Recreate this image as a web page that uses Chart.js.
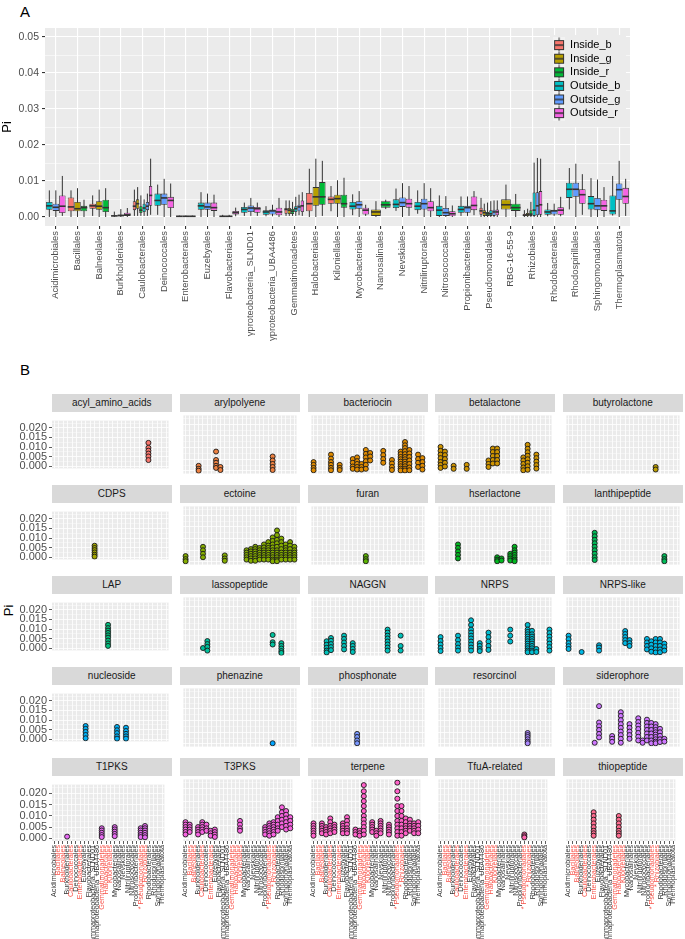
<!DOCTYPE html>
<html><head><meta charset="utf-8">
<script src="https://cdn.jsdelivr.net/npm/chart.js@4.4.1/dist/chart.umd.min.js"></script>
<style>
body{margin:0;background:#fff;width:685px;height:939px;position:relative;overflow:hidden;font-family:"Liberation Sans",Arial,sans-serif;}
.plabel{position:absolute;font-size:15px;color:#000;}
.strip{position:absolute;background:#D9D9D9;color:#1A1A1A;font-size:10px;text-align:center;line-height:18px;height:18px;}
.ytitle{position:absolute;font-size:13px;color:#000;transform:rotate(-90deg);transform-origin:center;}
canvas{position:absolute;}
</style></head>
<body>
<div class="plabel" style="left:20px;top:3px;">A</div>
<div class="plabel" style="left:20px;top:361px;">B</div>
<div class="ytitle" style="left:3px;top:603px;">Pi</div>
<canvas id="cA" width="640" height="358" style="left:0;top:0;width:640px;height:358px;"></canvas>
<script>
// ---------------- DATA : panel A ----------------
const categoriesA = ["Acidimicrobiales","Bacillales","Balneolales","Burkholderiales","Caulobacterales","Deinococcales","Enterobacterales","Euzebyales","Flavobacteriales","γproteobacteria_SLND01","γproteobacteria_UBA4486","Gemmatimonadetes","Halobacteriales","Kiloniellales","Mycobacteriales","Nanosalinales","Nevskiales","Nitriliruptorales","Nitrosococcales","Propionibacteriales","Pseudomonadales","RBG-16-55-9","Rhizobiales","Rhodobacterales","Rhodospirillales","Sphingomonadales","Thermoplasmatota"];
const groupNames = ["Inside_b","Inside_g","Inside_r","Outside_b","Outside_g","Outside_r"];
const yTicksA = [0, 0.01, 0.02, 0.03, 0.04, 0.05];
const yMinorA = [0.005, 0.015, 0.025, 0.035, 0.045];
// box statistics per category: [min, q1, median, q3, max]; null = group absent
const insideB = [null,[0,0.0016,0.0028,0.0054,0.0074],[0.0003,0.0023,0.0031,0.0037,0.006],null,[0.0003,0.0019,0.003,0.0044,0.0076],null,null,null,null,null,null,[0.0003,0.0009,0.0021,0.0025,0.0046],[0,0.0016,0.0037,0.0067,0.0134],[0.0016,0.0037,0.0049,0.0057,0.0086],null,null,null,null,null,null,[0,0.0006,0.0017,0.0026,0.0053],null,[0,0.0002,0.0005,0.0009,0.0019],null,null,null,null];
const insideG = [null,[0,0.0016,0.0023,0.0042,0.008],[0,0.002,0.003,0.0044,0.0076],null,[0.0003,0.0023,0.0037,0.0049,0.0083],null,null,null,null,null,null,[0.0003,0.0008,0.0019,0.0025,0.0046],[0,0.0031,0.0056,0.0083,0.0162],[0,0.0037,0.0051,0.0062,0.0102],null,[0,0.0003,0.0014,0.0021,0.0044],null,null,null,null,[0,0.0003,0.0012,0.0019,0.0037],[0,0.0021,0.0034,0.0049,0.009],[0,0.0002,0.0006,0.0011,0.0023],null,null,null,null];
const insideR = [null,[0,0.0016,0.0026,0.0031,0.0048],[0,0.0014,0.0026,0.0048,0.008],null,[0.0003,0.0011,0.0019,0.003,0.006],null,null,null,null,null,null,[0.0003,0.0008,0.0016,0.0023,0.0042],[0.0003,0.0034,0.0056,0.0097,0.0156],[0,0.0026,0.0037,0.0062,0.0109],null,[0.0022,0.0026,0.0034,0.0044,0.0048],null,null,null,null,[0,0.0003,0.0009,0.0014,0.004],[0,0.0017,0.0026,0.0037,0.0064],[0,0.0003,0.0008,0.0019,0.0042],null,null,null,null];
const outsideB = [[0,0.002,0.0031,0.0042,0.0074],null,null,[0,0.0002,0.0003,0.0005,0.0015],[0.0003,0.0014,0.0025,0.0037,0.0049],[0.0006,0.0031,0.0046,0.0065,0.009],[0,0.0001,0.0002,0.0003,0.0004],[0,0.002,0.0031,0.004,0.0069],[0,0.0001,0.0002,0.0003,0.0006],[0.0003,0.0012,0.0021,0.0028,0.004],[0.0002,0.0006,0.0014,0.0019,0.003],[0.0003,0.0014,0.0023,0.003,0.0056],null,null,[0.0005,0.0021,0.003,0.0042,0.0063],null,[0.0017,0.0025,0.0035,0.0049,0.0079],[0.0009,0.0019,0.003,0.0042,0.0074],[0,0.0003,0.0019,0.0031,0.006],[0.0003,0.0012,0.0021,0.0031,0.0057],[0,0.0003,0.0009,0.0019,0.0044],null,[0,0.0003,0.0019,0.0068,0.0151],[0.0002,0.0006,0.0014,0.0021,0.0039],[0.0021,0.0053,0.0077,0.0095,0.0136],[0,0.0021,0.0037,0.0058,0.0108],[0.0004,0.0007,0.0017,0.006,0.0114]];
const outsideG = [[0,0.0017,0.0027,0.0037,0.0074],null,null,[0,0.0002,0.0004,0.0007,0.0022],[0.0003,0.0019,0.003,0.0042,0.0065],[0,0.0034,0.0053,0.0065,0.0106],[0,0.0001,0.0002,0.0003,0.0004],[0,0.002,0.0028,0.004,0.0065],[0,0.0001,0.0002,0.0003,0.0006],[0.0003,0.0014,0.0025,0.0032,0.0053],[0.0002,0.0007,0.0017,0.0021,0.0034],[0.0005,0.0016,0.0028,0.0034,0.0062],null,null,[0,0.0023,0.0034,0.0044,0.0072],null,[0,0.0028,0.004,0.0054,0.0094],[0,0.0021,0.0037,0.0051,0.0094],[0,0.0003,0.0012,0.0025,0.0058],[0.0003,0.0012,0.0026,0.0031,0.0057],[0,0.0003,0.0014,0.002,0.0046],null,[0,0.0005,0.0031,0.0069,0.0164],[0.0003,0.0007,0.0017,0.002,0.0037],[0,0.0056,0.0077,0.0095,0.0148],[0,0.0019,0.0031,0.0053,0.0104],[0,0.0048,0.0076,0.0093,0.0156]];
const outsideR = [[0.0003,0.0011,0.003,0.006,0.0114],null,null,[0,0.0003,0.0006,0.0012,0.0025],[0.0006,0.0031,0.006,0.0086,0.0162],[0,0.0025,0.0046,0.0056,0.0093],[0,0.0001,0.0002,0.0003,0.0004],[0,0.0017,0.0026,0.004,0.0062],[0.0002,0.0007,0.0012,0.0017,0.0026],[0.0003,0.0012,0.0023,0.0028,0.004],[0,0.0005,0.0014,0.0026,0.0053],[0.0003,0.0014,0.0031,0.0046,0.0069],null,null,[0.0003,0.0007,0.0019,0.0026,0.0034],null,[0.0003,0.0026,0.0037,0.0051,0.0086],[0,0.0016,0.0026,0.0044,0.008],[0,0.0002,0.0009,0.0016,0.0032],[0.0005,0.0019,0.0032,0.0057,0.0072],[0,0.0005,0.0014,0.0021,0.0046],null,[0,0.0006,0.0034,0.0072,0.0162],[0.0002,0.0006,0.0019,0.0027,0.0056],[0.0006,0.0037,0.0062,0.0077,0.0119],[0,0.0017,0.0031,0.0048,0.0083],[0.0003,0.0037,0.0057,0.0081,0.0106]];

// ---------------- DATA : panel B ----------------
const categoriesB = ["Acidimicrobiales","Bacillales","Balneolales","Burkholderiales","Caulobacterales","Deinococcales","Enterobacterales","Euzebyales","Flavobacteriales","Gammaproteobacteria_SLND01","Gammaproteobacteria_UBA4486","Gemmatimonadetes","Halobacteriales","Kiloniellales","Mycobacteriales","Nanosalinales","Nevskiales","Nitriliruptorales","Nitrosococcales","Propionibacteriales","* Pseudomonadales","* Rhizobiales","Rhodobacterales","Rhodospirillales","Sphingomonadales","Thermoplasmatota"];
const redCategoriesB = ["Bacillales","Balneolales","Caulobacterales","Enterobacterales","Gemmatimonadetes","Halobacteriales","Kiloniellales","* Pseudomonadales","* Rhizobiales"];
const yTicksB = [0, 0.005, 0.01, 0.015, 0.02];
const yMinorB = [0.0025, 0.0075, 0.0125, 0.0175, 0.0225];
const facetNames = ["acyl_amino_acids","arylpolyene","bacteriocin","betalactone","butyrolactone","CDPS","ectoine","furan","hserlactone","lanthipeptide","LAP","lassopeptide","NAGGN","NRPS","NRPS-like","nucleoside","phenazine","phosphonate","resorcinol","siderophore","T1PKS","T3PKS","terpene","TfuA-related","thiopeptide"];
// each facet: [category, [Pi values]]
const acyl_amino_acids = [["* Rhizobiales",[0.0122,0.0096,0.0081,0.0066,0.0051,0.0032]]];
const arylpolyene = [["Burkholderiales",[0.0022,0.0009,0.0001]],["Euzebyales",[0.0083,0.0047,0.0035,0.0022,0.0013]],["Flavobacteriales",[0.0017,0.0004]],["* Pseudomonadales",[0.0062,0.0045,0.003,0.0017,0.0004]]];
const bacteriocin = [["Acidimicrobiales",[0.0038,0.0026,0.0013,0.0003]],["Caulobacterales",[0.007,0.0053,0.0038,0.0026,0.0013,0.0003]],["Enterobacterales",[0.0026,0.0013,0.0004]],["Gammaproteobacteria_SLND01",[0.0051,0.0035,0.0019,0.0009]],["Gammaproteobacteria_UBA4486",[0.0058,0.0042,0.003,0.0017,0.0006]],["Gemmatimonadetes",[0.003,0.0017,0.0006]],["Halobacteriales",[0.009,0.0073,0.0058,0.0042,0.0026,0.0009]],["Kiloniellales",[0.0077,0.0062,0.0045]],["Nevskiales",[0.0086,0.0068,0.0051,0.0035]],["Nitrosococcales",[0.0047,0.0032,0.0017,0.0004]],["* Pseudomonadales",[0.0083,0.0072,0.006,0.005,0.004,0.003,0.002,0.001,0.0002]],["* Rhizobiales",[0.0124,0.011,0.0098,0.0085,0.0072,0.006,0.005,0.004,0.003,0.002,0.001,0.0002]],["Rhodobacterales",[0.009,0.0075,0.006,0.0045,0.003,0.0015,0.0003]],["Sphingomonadales",[0.007,0.0051,0.0035,0.0017]],["Thermoplasmatota",[0.0055,0.0038,0.0022,0.0006]]];
const betalactone = [["Acidimicrobiales",[0.0103,0.0086,0.007,0.0055,0.0038,0.0026,0.0013]],["Bacillales",[0.0083,0.0068,0.0051,0.0035,0.0019]],["Burkholderiales",[0.0022,0.0009]],["Enterobacterales",[0.0026,0.0009]],["Gemmatimonadetes",[0.0045,0.003,0.0017]],["Halobacteriales",[0.0096,0.0081,0.0064,0.0047,0.0032]],["Kiloniellales",[0.0096,0.0081,0.0064,0.0047,0.0032]],["Propionibacteriales",[0.0058,0.0045,0.003,0.0015,0.0003]],["* Pseudomonadales",[0.0112,0.0095,0.008,0.0065,0.005,0.0035,0.002,0.0005]],["Rhodobacterales",[0.007,0.0055,0.004,0.0025,0.001]]];
const butyrolactone = [["* Pseudomonadales",[0.0017,0.0006]]];
const CDPS = [["Gammaproteobacteria_SLND01",[0.006,0.0048,0.0037,0.0025,0.0013,0.0003]]];
const ectoine = [["Acidimicrobiales",[0.0025,0.0012,0.0003]],["Caulobacterales",[0.0065,0.005,0.0035,0.002]],["Gammaproteobacteria_SLND01",[0.0028,0.0015,0.0005]],["Mycobacteriales",[0.005,0.004,0.003,0.002,0.001]],["Nanosalinales",[0.0055,0.0045,0.0035,0.0025,0.0015,0.0005]],["Nevskiales",[0.0065,0.0055,0.0045,0.0035,0.0025,0.0015,0.0005]],["Nitriliruptorales",[0.006,0.005,0.004,0.003,0.002,0.001]],["Nitrosococcales",[0.0075,0.0062,0.005,0.004,0.003,0.002,0.001]],["Propionibacteriales",[0.0085,0.007,0.006,0.005,0.004,0.003,0.002,0.001]],["* Pseudomonadales",[0.0105,0.009,0.0075,0.0062,0.005,0.004,0.003,0.002,0.001,0.0003]],["* Rhizobiales",[0.0135,0.0115,0.0095,0.008,0.0065,0.005,0.004,0.003,0.002,0.001,0.0003]],["Rhodobacterales",[0.01,0.0085,0.007,0.0055,0.004,0.003,0.002,0.001]],["Rhodospirillales",[0.0075,0.006,0.005,0.004,0.003,0.002,0.001]],["Sphingomonadales",[0.0085,0.007,0.0055,0.004,0.003,0.002,0.001]],["Thermoplasmatota",[0.0065,0.005,0.004,0.003,0.002,0.001]]];
const furan = [["Halobacteriales",[0.0025,0.0012,0.0003]]];
const hserlactone = [["Caulobacterales",[0.0075,0.006,0.0045,0.003,0.0015]],["Kiloniellales",[0.002,0.001,0.0003]],["Mycobacteriales",[0.0015,0.0006]],["Nevskiales",[0.0035,0.0025,0.0015,0.0006]],["Nitriliruptorales",[0.0065,0.005,0.004,0.003,0.002,0.001,0.0003]]];
const lanthipeptide = [["Enterobacterales",[0.0125,0.011,0.0095,0.008,0.0065,0.005,0.0035,0.002,0.0008]],["Rhodobacterales",[0.0025,0.0012,0.0003]]];
const LAP = [["Halobacteriales",[0.0122,0.0105,0.0092,0.008,0.0067,0.0055,0.004,0.0025,0.0012]]];
const lassopeptide = [["Caulobacterales",[0.0021]],["Deinococcales",[0.0051,0.0038,0.0026,0.001]],["* Pseudomonadales",[0.0077,0.0046,0.0036]],["Rhodobacterales",[0.0042,0.003,0.0019,0.0008,0]]];
const NAGGN = [["Burkholderiales",[0.005,0.0035,0.0022,0.001,0.0002]],["Caulobacterales",[0.0064,0.0052,0.0038,0.0025,0.0012]],["Euzebyales",[0.0074,0.006,0.0045,0.003,0.0015]],["Gammaproteobacteria_SLND01",[0.0042,0.003,0.0017,0.0004]],["Nitriliruptorales",[0.01,0.0087,0.0074,0.0062,0.0049,0.0036,0.0023,0.001]],["* Pseudomonadales",[0.0074,0.003,0.001]]];
const NRPS = [["Acidimicrobiales",[0.0068,0.0051,0.0036,0.0021,0.0008]],["Caulobacterales",[0.0074,0.0055,0.0038,0.0023,0.001]],["Euzebyales",[0.014,0.012,0.01,0.0087,0.0074,0.0062,0.0049,0.0036,0.0023,0.001]],["Gammaproteobacteria_SLND01",[0.0042,0.003,0.0017,0.0008]],["Gemmatimonadetes",[0.0087,0.0068,0.0049,0.003,0.0013]],["Nevskiales",[0.01,0.0074,0.0049]],["* Pseudomonadales",[0.012,0.01,0.009,0.008,0.007,0.006,0.005,0.004,0.003,0.002,0.001,0.0003]],["* Rhizobiales",[0.0095,0.008,0.007,0.006,0.005,0.004,0.003,0.002,0.001,0.0003]],["Rhodobacterales",[0.0017,0.0004]],["Thermoplasmatota",[0.01,0.0085,0.007,0.0055,0.004,0.0025,0.001]]];
const NRPS_like = [["Acidimicrobiales",[0.0074,0.0059,0.0042,0.0029,0.0017]],["Burkholderiales",[0.0004]],["Euzebyales",[0.0033,0.0023,0.001]],["Kiloniellales",[0.0094,0.0081,0.0068,0.0055,0.0042]],["Mycobacteriales",[0.0055,0.0042,0.003]],["Nitrosococcales",[0.006,0.0045,0.003,0.0015]],["Propionibacteriales",[0.005,0.0035,0.002,0.0005]],["* Pseudomonadales",[0.006,0.0045,0.003,0.0015,0.0002]],["* Rhizobiales",[0.006,0.0045,0.003,0.0015,0.0003]],["Rhodobacterales",[0.004,0.0025,0.001]]];
const nucleoside = [["Euzebyales",[0.0069,0.0054,0.0038,0.0022,0.0005]],["Mycobacteriales",[0.0064,0.0047,0.0032,0.0015,0.0003]],["Nevskiales",[0.006,0.0043,0.0028,0.0015,0.0003]]];
const phenazine = [["* Pseudomonadales",[0.0003]]];
const phosphonate = [["Gammaproteobacteria_UBA4486",[0.0043,0.003,0.0015,0.0003]]];
const resorcinol = [["* Pseudomonadales",[0.0047,0.0038,0.003,0.002,0.001,0.0003]]];
const siderophore = [["Enterobacterales",[0.0005]],["Euzebyales",[0.0162,0.0092,0.0076,0.006,0.0043,0.0028]],["Gammaproteobacteria_UBA4486",[0.0034,0.0022,0.0009]],["Halobacteriales",[0.0136,0.012,0.0102,0.0085,0.0069,0.0053,0.0038,0.0022,0.0005]],["Mycobacteriales",[0.0085,0.0069,0.0053,0.0038,0.0022]],["Nevskiales",[0.011,0.0094,0.0079,0.0064,0.0047,0.0031,0.0015]],["Nitriliruptorales",[0.0015,0.0005]],["Nitrosococcales",[0.0104,0.009,0.0075,0.006,0.0045,0.003,0.0015]],["Propionibacteriales",[0.009,0.0075,0.006,0.0045,0.003,0.0015,0.0003]],["* Pseudomonadales",[0.0085,0.0072,0.006,0.005,0.004,0.003,0.002,0.001,0.0003]],["* Rhizobiales",[0.0065,0.005,0.0035,0.002,0.0008]],["Rhodobacterales",[0.0022,0.001]]];
const T1PKS = [["Burkholderiales",[0.0008]],["Gemmatimonadetes",[0.0045,0.0035,0.0025,0.0015,0.0006]],["Mycobacteriales",[0.005,0.004,0.003,0.002,0.001]],["* Pseudomonadales",[0.0045,0.0035,0.0025,0.0015,0.0006]],["* Rhizobiales",[0.0055,0.0045,0.0035,0.0025,0.0015,0.0005]]];
const T3PKS = [["Acidimicrobiales",[0.0065,0.0055,0.0045,0.0035,0.0025,0.0015]],["Bacillales",[0.0055,0.0045,0.0035,0.0025]],["Burkholderiales",[0.0045,0.0035,0.0025,0.0015]],["Caulobacterales",[0.0065,0.0055,0.0045,0.0035,0.0025]],["Deinococcales",[0.0055,0.004,0.003]],["Enterobacterales",[0.003,0.002,0.001]],["Euzebyales",[0.0035,0.0025,0.0015,0.0005]],["Kiloniellales",[0.007,0.0055,0.004,0.003]],["Propionibacteriales",[0.0045,0.0035,0.0025,0.0015]],["* Pseudomonadales",[0.006,0.005,0.004,0.003,0.002,0.001]],["* Rhizobiales",[0.0065,0.0055,0.0045,0.0035,0.0025,0.0015]],["Rhodobacterales",[0.0085,0.007,0.0055,0.004,0.003]],["Rhodospirillales",[0.0125,0.0105,0.009,0.0075,0.006,0.0045]],["Sphingomonadales",[0.011,0.0095,0.008,0.0065,0.005,0.0035]],["Thermoplasmatota",[0.0085,0.007,0.0055,0.004]]];
const terpene = [["Acidimicrobiales",[0.006,0.005,0.004,0.003,0.002,0.001]],["Balneolales",[0.006,0.005,0.004,0.003,0.002]],["Burkholderiales",[0.0045,0.0035,0.0025,0.0015]],["Caulobacterales",[0.008,0.0065,0.005,0.004,0.003,0.002]],["Deinococcales",[0.0055,0.0045,0.0035,0.0025]],["Euzebyales",[0.006,0.005,0.004,0.003,0.002]],["Flavobacteriales",[0.0085,0.007,0.0055,0.004,0.003,0.002]],["Gammaproteobacteria_UBA4486",[0.0035,0.0025,0.0015]],["Gemmatimonadetes",[0.003,0.002,0.001]],["Halobacteriales",[0.0215,0.019,0.017,0.015,0.013,0.011,0.009,0.0075,0.006,0.0045,0.003,0.0015]],["Mycobacteriales",[0.0065,0.0055,0.0045,0.0035,0.0025]],["Nanosalinales",[0.003,0.002,0.001]],["Nevskiales",[0.007,0.006,0.005,0.004,0.003,0.002]],["Nitrosococcales",[0.0055,0.0045,0.0035,0.0025,0.0015]],["* Pseudomonadales",[0.0225,0.019,0.016,0.013,0.011,0.009,0.007,0.0055,0.004,0.0025,0.001]],["* Rhizobiales",[0.013,0.011,0.009,0.007,0.0055,0.004,0.0025,0.001]],["Rhodobacterales",[0.008,0.0065,0.005,0.004,0.003,0.002]],["Rhodospirillales",[0.0075,0.006,0.005,0.004,0.003]],["Sphingomonadales",[0.006,0.005,0.004,0.003,0.002]],["Thermoplasmatota",[0.0065,0.005,0.0035,0.002]]];
const TfuA_related = [["* Pseudomonadales",[0.0015,0.0008,0.0003]]];
const thiopeptide = [["Enterobacterales",[0.0105,0.009,0.0075,0.006,0.0045,0.003,0.002,0.001]],["Halobacteriales",[0.009,0.0075,0.006,0.0045,0.003,0.002,0.001]]];
const facetData = [acyl_amino_acids,arylpolyene,bacteriocin,betalactone,butyrolactone,CDPS,ectoine,furan,hserlactone,lanthipeptide,LAP,lassopeptide,NAGGN,NRPS,NRPS_like,nucleoside,phenazine,phosphonate,resorcinol,siderophore,T1PKS,T3PKS,terpene,TfuA_related,thiopeptide];

// ---------------- helpers ----------------
Chart.defaults.font.family = '"Liberation Sans", Arial, sans-serif';
Chart.defaults.animation = false;
Chart.defaults.responsive = false;
Chart.defaults.devicePixelRatio = 1;

function hcl(h, c, l) {
  const hr = h * Math.PI / 180;
  const U = c * Math.cos(hr), V = c * Math.sin(hr);
  const un = 0.1978398, vn = 0.4683363;
  const Y = Math.pow((l + 16) / 116, 3);
  const u = U / (13 * l) + un, v = V / (13 * l) + vn;
  const X = Y * 9 * u / (4 * v), Z = Y * (12 - 3 * u - 20 * v) / (4 * v);
  const lin = [3.240479*X - 1.537150*Y - 0.498535*Z, -0.969256*X + 1.875992*Y + 0.041556*Z, 0.055648*X - 0.204043*Y + 1.057311*Z];
  const g = lin.map(t => { t = t <= 0.0031308 ? 12.92 * t : 1.055 * Math.pow(t, 1/2.4) - 0.055; return Math.round(Math.max(0, Math.min(1, t)) * 255); });
  return 'rgb(' + g.join(',') + ')';
}
function huePal(n) { const out = []; for (let i = 0; i < n; i++) out.push(hcl((15 + 360 * i / n) % 360, 100, 65)); return out; }
const near = (arr, v) => arr.some(t => Math.abs(t - v) < 1e-9);

const PANEL_BG = '#EBEBEB';
const panelBg = { id: 'panelBg', beforeDraw(chart) { const a = chart.chartArea; const ctx = chart.ctx; ctx.save(); ctx.fillStyle = PANEL_BG; ctx.fillRect(a.left, a.top, a.right - a.left, a.bottom - a.top); ctx.restore(); } };

// ---------------- Panel A ----------------
const colorsA = ['#F8766D', '#B79F00', '#00BA38', '#00BFC4', '#619CFF', '#F564E3'];
const statsA = [insideB, insideG, insideR, outsideB, outsideG, outsideR];

function keyGlyph(color) {
  const c = document.createElement('canvas'); c.width = 12; c.height = 16;
  const x = c.getContext('2d');
  x.fillStyle = '#F2F2F2'; x.fillRect(0, 0, 12, 16);
  x.strokeStyle = '#333'; x.lineWidth = 1;
  x.beginPath(); x.moveTo(6, 0.5); x.lineTo(6, 15.5); x.stroke();
  x.fillStyle = color; x.fillRect(1.5, 3.5, 9, 9); x.strokeRect(1.5, 3.5, 9, 9);
  x.lineWidth = 1.5; x.beginPath(); x.moveTo(1.5, 8); x.lineTo(10.5, 8); x.stroke();
  return c;
}

const boxWhisker = {
  id: 'boxWhisker',
  beforeDatasetsDraw(chart) {
    const ctx = chart.ctx, ys = chart.scales.y;
    chart.data.datasets.forEach((ds, di) => {
      const meta = chart.getDatasetMeta(di);
      meta.data.forEach((el, i) => {
        const s = ds.stats[i]; if (!s) return;
        ctx.save(); ctx.strokeStyle = '#333'; ctx.lineWidth = 1;
        ctx.beginPath(); ctx.moveTo(el.x, ys.getPixelForValue(s[0])); ctx.lineTo(el.x, ys.getPixelForValue(s[4])); ctx.stroke();
        ctx.restore();
      });
    });
  },
  afterDatasetsDraw(chart) {
    const ctx = chart.ctx, ys = chart.scales.y;
    chart.data.datasets.forEach((ds, di) => {
      const meta = chart.getDatasetMeta(di);
      meta.data.forEach((el, i) => {
        const s = ds.stats[i]; if (!s) return;
        const y = ys.getPixelForValue(s[2]);
        ctx.save(); ctx.strokeStyle = '#333'; ctx.lineWidth = 1.6;
        ctx.beginPath(); ctx.moveTo(el.x - el.width / 2, y); ctx.lineTo(el.x + el.width / 2, y); ctx.stroke();
        ctx.restore();
      });
    });
  }
};

const legendInside = {
  id: 'legendInside',
  afterLayout(chart) {
    const lg = chart.legend; if (!lg) return;
    const w = lg.width;
    lg.left = 551; lg.right = 551 + w; lg.top = 37; lg.bottom = 128;
  },
  beforeDatasetsDraw(chart) {
    const lg = chart.legend; const ctx = chart.ctx;
    ctx.save(); ctx.fillStyle = PANEL_BG; ctx.fillRect(550, 35, 76, 92); ctx.restore();
    lg.draw();
  }
};

new Chart(document.getElementById('cA'), {
  type: 'bar',
  data: {
    labels: categoriesA,
    datasets: groupNames.map((g, i) => ({
      label: g,
      stats: statsA[i],
      data: statsA[i].map(s => s ? [s[1], s[3]] : null),
      backgroundColor: colorsA[i],
      borderColor: '#333333',
      borderWidth: 0.8,
      borderSkipped: false,
      skipNull: true,
      categoryPercentage: 0.9,
      barPercentage: 1.0
    }))
  },
  options: {
    layout: { padding: { top: 28, right: 10, left: 0, bottom: 0 } },
    plugins: {
      tooltip: { enabled: false },
      legend: {
        position: 'chartArea', align: 'start',
        labels: {
          usePointStyle: true, boxWidth: 12, boxHeight: 12, padding: 2.6,
          color: '#000', font: { size: 11 },
          generateLabels(chart) {
            return chart.data.datasets.map((ds, i) => ({ text: ds.label, pointStyle: keyGlyph(colorsA[i]), fillStyle: colorsA[i], strokeStyle: '#333', lineWidth: 0, datasetIndex: i, hidden: false }));
          }
        }
      }
    },
    scales: {
      x: {
        offset: true,
        grid: { offset: false, color: '#FFFFFF', lineWidth: 1.1, tickLength: 3, tickColor: '#333333', drawOnChartArea: true },
        border: { display: false },
        ticks: { color: '#4D4D4D', font: { size: 9.4 }, minRotation: 90, maxRotation: 90, autoSkip: false, padding: 2 },
        afterFit(s) { s.height = 358 - 226; }
      },
      y: {
        min: -0.0025, max: 0.0525,
        border: { display: false },
        afterBuildTicks(s) { s.ticks = yTicksA.concat(yMinorA).sort((a, b) => a - b).map(v => ({ value: v })); },
        grid: {
          color: '#FFFFFF',
          lineWidth: c => (near(yTicksA, c.tick.value) ? 1.1 : 0.55),
          tickLength: 3,
          tickColor: c => (near(yTicksA, c.tick.value) ? '#333333' : 'rgba(0,0,0,0)')
        },
        ticks: {
          autoSkip: false, color: '#4D4D4D', font: { size: 10.5 }, padding: 3,
          callback: v => (near(yTicksA, v) ? v.toFixed(2) : '')
        },
        title: { display: true, text: 'Pi', color: '#000', font: { size: 13 }, padding: { top: 0, bottom: 4 } },
        afterFit(s) { s.width = 45; }
      }
    }
  },
  plugins: [panelBg, boxWhisker, legendInside]
});

// ---------------- Panel B ----------------
const colorsB = huePal(facetNames.length);
const colLeft = [52, 180, 308, 435, 563];
const rowTop = [394, 485, 576, 667, 758];
const PANEL_W = 119.5, STRIP_H = 18, PANEL_H = 65;

facetNames.forEach((name, f) => {
  const r = Math.floor(f / 5), c = f % 5;
  const strip = document.createElement('div');
  strip.className = 'strip';
  strip.style.left = colLeft[c] + 'px'; strip.style.top = rowTop[r] + 'px'; strip.style.width = PANEL_W + 'px';
  strip.textContent = name;
  document.body.appendChild(strip);

  const cv = document.createElement('canvas');
  const left = c === 0 ? 0 : colLeft[c];
  const w = c === 0 ? colLeft[0] + PANEL_W : PANEL_W;
  const top = rowTop[r] + STRIP_H;
  const bottomRow = r === 4;
  const h = bottomRow ? 939 - top : PANEL_H;
  cv.width = Math.round(w); cv.height = h;
  cv.style.left = left + 'px'; cv.style.top = top + 'px'; cv.style.width = Math.round(w) + 'px'; cv.style.height = h + 'px';
  document.body.appendChild(cv);

  const pts = [];
  facetData[f].forEach(([cat, vals]) => vals.forEach(v => pts.push({ x: cat, y: v })));

  new Chart(cv, {
    type: 'scatter',
    data: { datasets: [{ data: pts, backgroundColor: colorsB[f], borderColor: '#1A1A1A', borderWidth: 0.9, pointRadius: 2.5, pointHoverRadius: 2.5 }] },
    options: {
      layout: { padding: 0 },
      plugins: { legend: { display: false }, tooltip: { enabled: false } },
      scales: {
        x: {
          type: 'category', labels: categoriesB, offset: true,
          grid: { offset: false, color: '#FFFFFF', lineWidth: 0.8, drawTicks: bottomRow, tickLength: 3, tickColor: '#333333' },
          border: { display: false },
          ticks: {
            display: bottomRow, autoSkip: false, minRotation: 90, maxRotation: 90, padding: 1,
            font: { size: 7.2 },
            color: ctx => (redCategoriesB.includes(categoriesB[ctx.index]) ? '#F8544B' : '#333333')
          },
          afterFit(s) { s.height = bottomRow ? h - PANEL_H : 0; }
        },
        y: {
          min: -0.00114, max: 0.0238,
          border: { display: false },
          afterBuildTicks(s) { s.ticks = yTicksB.concat(yMinorB).sort((a, b) => a - b).map(v => ({ value: v })); },
          grid: {
            color: '#FFFFFF',
            lineWidth: ctx => (near(yTicksB, ctx.tick.value) ? 0.8 : 0.4),
            drawTicks: c === 0, tickLength: 3,
            tickColor: ctx => (near(yTicksB, ctx.tick.value) ? '#333333' : 'rgba(0,0,0,0)')
          },
          ticks: {
            display: c === 0, autoSkip: false,
            color: '#4D4D4D', font: { size: 11 }, padding: 2,
            callback: v => (near(yTicksB, v) ? v.toFixed(3) : '')
          },
          afterFit(s) { s.width = c === 0 ? colLeft[0] : 0; }
        }
      }
    },
    plugins: [panelBg]
  });
});
</script>
</body></html>
